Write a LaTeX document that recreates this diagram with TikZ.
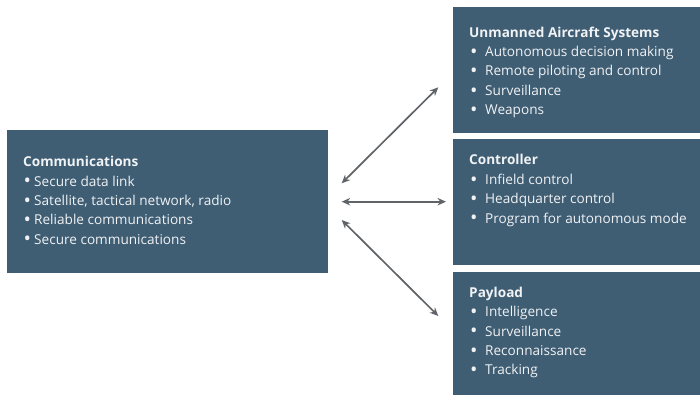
\documentclass[tikz,border=0pt]{standalone}
\usepackage{fontspec}
\setmainfont{Open Sans}
\usetikzlibrary{arrows.meta}
\definecolor{boxblue}{RGB}{63,94,116}
\definecolor{arrowgray}{RGB}{96,100,104}
\definecolor{txt}{RGB}{240,242,244}
\tikzset{
  box/.style={fill=boxblue, draw=none, inner sep=0pt, anchor=north west},
  ttl/.style={anchor=base west, inner sep=0pt, text=txt, font=\fontsize{13.6}{15}\selectfont\bfseries},
  itm/.style={anchor=base west, inner sep=0pt, text=txt, font=\fontsize{13.6}{15}\selectfont},
  link/.style={draw=arrowgray, line width=1.7pt, {Stealth[length=8.5pt,width=7.5pt]}-{Stealth[length=8.5pt,width=7.5pt]}}
}
\newcommand{\lb}[2]{\makebox[#1][l]{\raisebox{-1.9pt}{\scalebox{1.45}{\textbullet}}}#2}
\begin{document}
\begin{tikzpicture}[x=1pt,y=-1pt]
\useasboundingbox (0,0) rectangle (700,395);
% boxes
\node[box, minimum width=321pt, minimum height=143pt] (comm) at (7,130) {};
\node[box, minimum width=247pt, minimum height=126pt] (uas) at (453,7) {};
\node[box, minimum width=247pt, minimum height=126pt] (ctrl) at (453,139) {};
\node[box, minimum width=247pt, minimum height=123pt] (pay) at (453,272) {};
% communications
\node[ttl] (commt) at (23,166.7) {Communications};
\node[itm] (comm1) at (23.5,186) {\lb{10.5pt}{Secure data link}};
\node[itm] (comm2) at (23.5,205.3) {\lb{10.5pt}{Satellite, tactical network, radio}};
\node[itm] (comm3) at (23.5,224.6) {\lb{10.5pt}{Reliable communications}};
\node[itm] (comm4) at (23.5,244) {\lb{10.5pt}{Secure communications}};
% UAS
\node[ttl] (uast) at (469,37.3) {Unmanned Aircraft Systems};
\node[itm] (uas1) at (470,56.6) {\lb{15pt}{Autonomous decision making}};
\node[itm] (uas2) at (470,76) {\lb{15pt}{Remote piloting and control}};
\node[itm] (uas3) at (470,95.3) {\lb{15pt}{Surveillance}};
\node[itm] (uas4) at (470,114.6) {\lb{15pt}{Weapons}};
% Controller
\node[ttl] (ctrlt) at (469,165) {Controller};
\node[itm] (ctrl1) at (470,184.3) {\lb{15pt}{Infield control}};
\node[itm] (ctrl2) at (470,203.6) {\lb{15pt}{Headquarter control}};
\node[itm] (ctrl3) at (470,223) {\lb{15pt}{Program for autonomous mode}};
% Payload
\node[ttl] (payt) at (469,297.3) {Payload};
\node[itm] (pay1) at (470,316.6) {\lb{15pt}{Intelligence}};
\node[itm] (pay2) at (470,336) {\lb{15pt}{Surveillance}};
\node[itm] (pay3) at (470,355.3) {\lb{15pt}{Reconnaissance}};
\node[itm] (pay4) at (470,374.6) {\lb{15pt}{Tracking}};
% arrow ends
\coordinate (a1s) at (341.7,183.3);
\coordinate (a1e) at (438.3,87.3);
\coordinate (a2s) at (341.7,201.7);
\coordinate (a2e) at (446,201.7);
\coordinate (a3s) at (341.7,220);
\coordinate (a3e) at (438.3,316);
\draw[link] (a1s) -- (a1e);
\draw[link] (a2s) -- (a2e);
\draw[link] (a3s) -- (a3e);
\end{tikzpicture}
\end{document}
